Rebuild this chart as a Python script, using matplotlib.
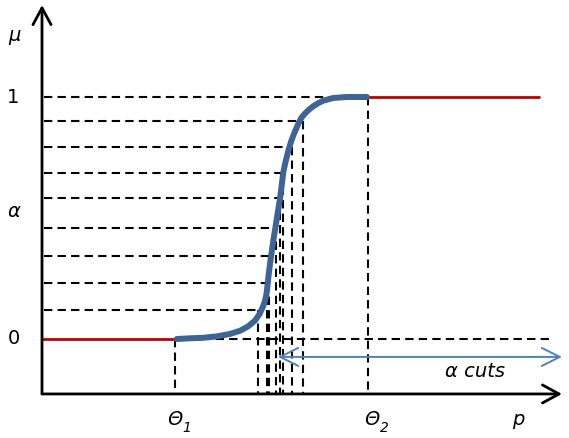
import matplotlib
matplotlib.use("Agg")
import matplotlib.pyplot as plt

# membership curve (p, mu)
curve_p = [1.347, 1.48, 1.61, 1.75, 1.88, 1.98, 2.06, 2.13, 2.175, 2.207, 2.23, 2.245,
           2.253, 2.265, 2.28, 2.297, 2.316, 2.337, 2.358, 2.38, 2.397, 2.413, 2.437,
           2.463, 2.49, 2.52, 2.545, 2.567, 2.597, 2.63, 2.67, 2.713, 2.76, 2.813, 2.913,
           3.047, 3.16, 3.25]
curve_mu = [0.0, 0.003, 0.005, 0.011, 0.021, 0.034, 0.052, 0.076, 0.103, 0.131, 0.157,
            0.186, 0.214, 0.26, 0.31, 0.36, 0.415, 0.468, 0.524, 0.579, 0.635, 0.689,
            0.735, 0.777, 0.815, 0.848, 0.872, 0.893, 0.916, 0.932, 0.948, 0.962, 0.974,
            0.985, 0.996, 1.0, 1.0, 1.0]

# alpha levels and where each cut meets the curve
alpha_levels = [0.121, 0.233, 0.344, 0.46, 0.581, 0.687, 0.795, 0.90]
cut_p = [2.16, 2.253, 2.265, 2.337, 2.38, 2.413, 2.497, 2.607]

theta1 = 1.33
theta2 = 3.26
p_end = 4.98
axis_y = -0.227
axis_x_end = 5.20
axis_mu_top = 1.38

fig = plt.figure(figsize=(5.69, 4.39), dpi=100)
ax = fig.add_axes([0, 0, 1, 1])
ax.set_xlim(-0.42, 5.27)
ax.set_ylim(-0.409, 1.405)
ax.axis('off')

dash = dict(color='black', lw=1.5, dashes=(4, 2.5))

# alpha cut lines
for a, c in zip(alpha_levels, cut_p):
    ax.plot([0.02, c], [a, a], **dash)
    ax.plot([c, c], [a, axis_y], **dash)

ax.plot([0.02, theta2], [1, 1], **dash)
ax.plot([theta1, 5.11], [0, 0], **dash)
ax.plot([theta1, theta1], [0, axis_y], **dash)
ax.plot([theta2, theta2], [1, axis_y], **dash)

# red flat parts
ax.plot([0, theta1], [0, 0], color='#C00000', lw=2, solid_capstyle='butt')
ax.plot([theta2, p_end], [1, 1], color='#C00000', lw=2, solid_capstyle='butt')

# the curve
ax.plot(curve_p, curve_mu, color='#3E6496', lw=4.3, solid_capstyle='round',
        solid_joinstyle='round')

# axes with arrows
arr = dict(arrowstyle='->,head_length=1.2,head_width=0.65', lw=2, color='black',
           shrinkA=0, shrinkB=0)
ax.annotate('', xy=(0, axis_mu_top), xytext=(0, axis_y), arrowprops=arr)
ax.annotate('', xy=(axis_x_end, axis_y), xytext=(0, axis_y), arrowprops=arr)

# alpha cuts double arrow
ax.annotate('', xy=(5.20, -0.074), xytext=(2.36, -0.074),
            arrowprops=dict(arrowstyle='<->,head_length=1.3,head_width=0.65', lw=1.4,
                            color='#4F81BD', shrinkA=0, shrinkB=0))

fam = ['DejaVu Sans']
ax.text(-0.28, 1.26, 'μ', fontsize=14, style='italic', ha='center', va='center', family=fam)
ax.text(-0.29, 1.004, '1', fontsize=14, ha='center', va='center', family=fam)
ax.text(-0.28, 0.529, 'α', fontsize=14, style='italic', ha='center', va='center', family=fam)
ax.text(-0.28, 0.008, '0', fontsize=14, ha='center', va='center', family=fam)
ax.text(1.33, -0.33, 'Θ', fontsize=14, style='italic', ha='center', va='center', family=fam)
ax.text(1.45, -0.363, '1', fontsize=10, style='italic', ha='center', va='center', family=fam)
ax.text(3.30, -0.33, 'Θ', fontsize=14, style='italic', ha='center', va='center', family=fam)
ax.text(3.42, -0.363, '2', fontsize=10, style='italic', ha='center', va='center', family=fam)
ax.text(4.76, -0.33, 'p', fontsize=14, style='italic', ha='center', va='center', family=fam)
ax.text(4.33, -0.132, 'α cuts', fontsize=14, style='italic', ha='center', va='center', family=fam)

fig.savefig('out.png', dpi=100)
